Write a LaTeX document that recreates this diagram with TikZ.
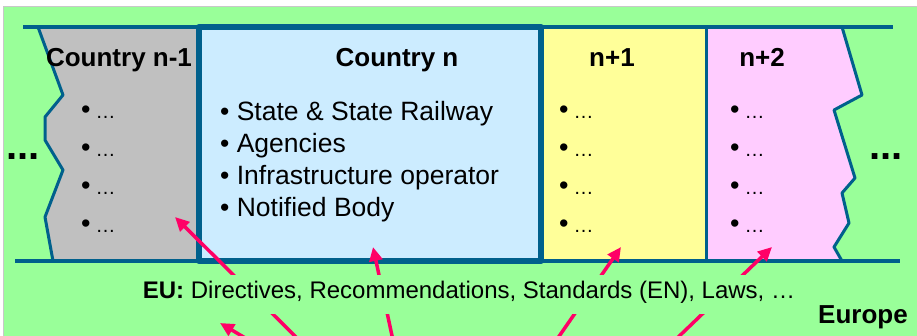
\documentclass[tikz,border=0pt]{standalone}
\usepackage{fontspec}
\setmainfont{Liberation Sans}
\usetikzlibrary{arrows.meta}

\definecolor{framegray}{RGB}{200,200,200}
\definecolor{eugreen}{RGB}{153,255,153}
\definecolor{bordercol}{RGB}{0,96,140}
\definecolor{landgray}{RGB}{192,192,192}
\definecolor{landblue}{RGB}{204,236,255}
\definecolor{landyellow}{RGB}{255,255,153}
\definecolor{landpink}{RGB}{255,204,255}
\definecolor{arrowcol}{RGB}{255,0,102}

\tikzset{
  border/.style={draw=bordercol, line width=3pt, line join=round},
  euarrow/.style={draw=arrowcol, line width=3.5pt, -{Triangle[length=14pt,width=13pt]}},
  countryhead/.style={font=\bfseries\fontsize{26}{30}\selectfont, anchor=base, inner sep=0pt},
  dotitem/.style={font=\fontsize{20}{24}\selectfont, anchor=base west, inner sep=0pt},
  bigitem/.style={font=\fontsize{26.5}{32}\selectfont, anchor=base west, inner sep=0pt},
  moredots/.style={font=\bfseries\fontsize{40}{44}\selectfont, inner sep=0pt}
}

\begin{document}
\begin{tikzpicture}[x=1pt,y=-1pt]
  \useasboundingbox (0,0) rectangle (917,335);
  \clip (0,0) rectangle (917,335);

  %background
  \fill[white] (0,0) rectangle (917,335);
  \draw[draw=framegray, fill=eugreen, line width=1.2pt] (3.5,6.5) rectangle (930,345);

  %country n-1 with torn left edge
  \fill[landgray] (38,27) -- (63,95) -- (45,117) -- (45,140) -- (63,170) -- (45,217)
    -- (53,261) -- (199,261) -- (199,27) -- cycle;
  \draw[border] (38,27) -- (63,95) -- (45,117) -- (45,140) -- (63,170) -- (45,217) -- (53,261);

  %n+1 and n+2
  \fill[landyellow] (541,27) rectangle (706,261);
  \fill[landpink] (706,27) -- (842,27) -- (862,95) -- (834,110) -- (855,178) -- (842,193)
    -- (849,223) -- (834,247) -- (842,261) -- (706,261) -- cycle;
  \draw[border] (842,27) -- (862,95) -- (834,110) -- (855,178) -- (842,193)
    -- (849,223) -- (834,247) -- (842,261);
  \draw[border] (706,27) -- (706,261);

  %horizontal lines
  \draw[border, line width=3.5pt] (23,27) -- (893,27);
  \draw[border, line width=3.5pt] (15,261) -- (900,261);

  %country n
  \draw[border, line width=6pt, fill=landblue] (199,27) rectangle (541,261);

  %headings
  \node[countryhead] (headprev) at (119,66) {Country n-1};
  \node[countryhead] (headn) at (397,66) {Country n};
  \node[countryhead] (headnext) at (612,66) {n+1};
  \node[countryhead] (headafter) at (762,66) {n+2};

  %items of country n
  \foreach \txt [count=\i] in {State \& State Railway, Agencies, Infrastructure operator, Notified Body}
    \node[bigitem] (item\i) at (220,{120+32.3*(\i-1)}) {• \txt};

  %items of the other countries
  \foreach \x/\name in {81/prev, 559/next, 730/after}
    \foreach \i in {1,2,3,4}
      \node[dotitem] (\name dot\i) at (\x,{118+38*(\i-1)}) {{\fontsize{27}{30}\selectfont •}\hspace{5pt}…};

  %dots left and right
  \node[moredots] (dotsleft) at (23,157) {...};
  \node[moredots] (dotsright) at (886,157) {...};

  %arrows from below
  \foreach \sx/\tx/\ty [count=\i] in {304/175/217, 394/373/247, 553/621/247, 670/772/247, 257/220/323} {
    \coordinate (src\i) at (\sx,345);
    \coordinate (tip\i) at (\tx,\ty);
    \draw[euarrow] (src\i) -- (tip\i);
  }

  %eu text
  \node[fill=eugreen, font=\fontsize{24}{28}\selectfont, anchor=base, inner xsep=4pt,
    inner ysep=6pt, text depth=10pt] (eu) at (469,298)
    {\textbf{EU:} Directives, Recommendations, Standards (EN), Laws, …};
  \node[font=\bfseries\fontsize{26}{30}\selectfont, anchor=base east, inner sep=0pt] (europe)
    at (908,323) {Europe};
\end{tikzpicture}
\end{document}
